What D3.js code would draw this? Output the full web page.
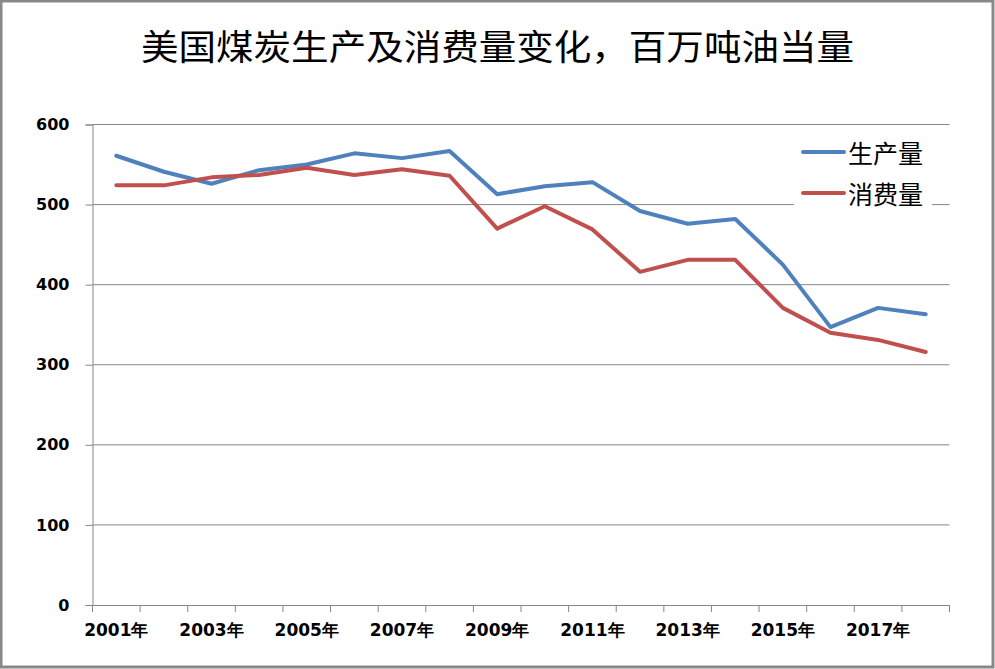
<!DOCTYPE html>
<html>
<head>
<meta charset="utf-8">
<script src="https://cdn.jsdelivr.net/npm/d3@7/dist/d3.min.js"></script>
<style>
  body { margin: 0; background: #fff; }
  .tick text { font-family: "DejaVu Sans", sans-serif; font-weight: bold; font-size: 16px; fill: #000; }
  .xaxis .tick text { font-size: 17px; }
</style>
</head>
<body>
<svg width="995" height="669"></svg>
<script>

var years = ["2001", "2002", "2003", "2004", "2005", "2006", "2007", "2008", "2009",
             "2010", "2011", "2012", "2013", "2014", "2015", "2016", "2017", "2018"];
var production = [561, 541, 526, 543, 550, 564, 558, 567, 513, 523, 528, 492, 476, 482, 425, 347, 371, 363];
var consumption = [524, 524, 534, 537, 546, 537, 544, 536, 470, 498, 469, 416, 431, 431, 371, 340, 331, 316];
var yTicks = [0, 100, 200, 300, 400, 500, 600];
var seriesNames = ["生产量", "消费量"];
var colors = ["#4F81BD", "#C0504D"];

var svg = d3.select("svg"),
    margin = {top: 124.5, right: 45.5, bottom: 64, left: 92.5},
    width = +svg.attr("width") - margin.left - margin.right,
    height = +svg.attr("height") - margin.top - margin.bottom;

// outer frame
svg.append("rect")
    .attr("x", 1).attr("y", 1)
    .attr("width", 992).attr("height", 666)
    .attr("fill", "#fff")
    .attr("stroke", "#888").attr("stroke-width", 3);

svg.append("text")
    .attr("x", 497.5).attr("y", 44)
    .attr("text-anchor", "middle")
    .attr("dominant-baseline", "central")
    .attr("font-family", "'Noto Sans CJK SC', sans-serif")
    .attr("font-size", 35)
    .attr("textLength", 713)
    .attr("lengthAdjust", "spacingAndGlyphs")
    .text("美国煤炭生产及消费量变化，百万吨油当量");

var g = svg.append("g").attr("transform", "translate(" + margin.left + "," + margin.top + ")");

var x = d3.scaleBand().domain(years).range([0, width]);
var y = d3.scaleLinear().domain([0, 600]).range([height, 0]);

// gridlines
g.append("g")
  .selectAll("line")
  .data(yTicks.filter(function(d) { return d > 0; }))
  .enter().append("line")
    .attr("x1", 0).attr("x2", width)
    .attr("y1", function(d) { return y(d); })
    .attr("y2", function(d) { return y(d); })
    .attr("stroke", "#868686").attr("stroke-width", 1);

// y axis
var yAxis = g.append("g")
    .call(d3.axisLeft(y).tickValues(yTicks).tickSize(7).tickPadding(16));
yAxis.select(".domain").attr("stroke", "#868686");
yAxis.selectAll(".tick line").attr("stroke", "#868686");

// x axis: ticks on category boundaries, labels every other year
var xAxis = g.append("g")
    .attr("class", "xaxis")
    .attr("transform", "translate(0," + height + ")")
    .call(d3.axisBottom(x).tickSize(0).tickPadding(19)
      .tickFormat(function(d, i) { return i % 2 === 0 ? d + "年" : ""; }));
xAxis.select(".domain").attr("stroke", "#868686");
xAxis.selectAll(".bnd")
    .data(d3.range(years.length + 1))
    .enter().append("line")
    .attr("class", "bnd")
    .attr("x1", function(i) { return i * x.step(); })
    .attr("x2", function(i) { return i * x.step(); })
    .attr("y1", 0).attr("y2", 7)
    .attr("stroke", "#868686");

var line = d3.line()
    .x(function(d, i) { return x(years[i]) + x.bandwidth() / 2; })
    .y(function(d) { return y(d); });

[production, consumption].forEach(function(s, k) {
  g.append("path")
      .datum(s)
      .attr("fill", "none")
      .attr("stroke", colors[k])
      .attr("stroke-width", 4)
      .attr("stroke-linejoin", "round")
      .attr("stroke-linecap", "round")
      .attr("d", line);
});

// legend
var legend = svg.append("g");
legend.append("rect")
    .attr("x", 794).attr("y", 132)
    .attr("width", 138).attr("height", 78)
    .attr("fill", "#fff");
seriesNames.forEach(function(name, k) {
  var ly = 152 + k * 41;
  legend.append("line")
      .attr("x1", 803).attr("x2", 844)
      .attr("y1", ly).attr("y2", ly)
      .attr("stroke", colors[k]).attr("stroke-width", 4)
      .attr("stroke-linecap", "round");
  legend.append("text")
      .attr("x", 848).attr("y", ly)
      .attr("dominant-baseline", "central")
      .attr("font-family", "'Noto Sans CJK SC', sans-serif")
      .attr("font-size", 25)
      .text(name);
});

</script>
</body>
</html>
